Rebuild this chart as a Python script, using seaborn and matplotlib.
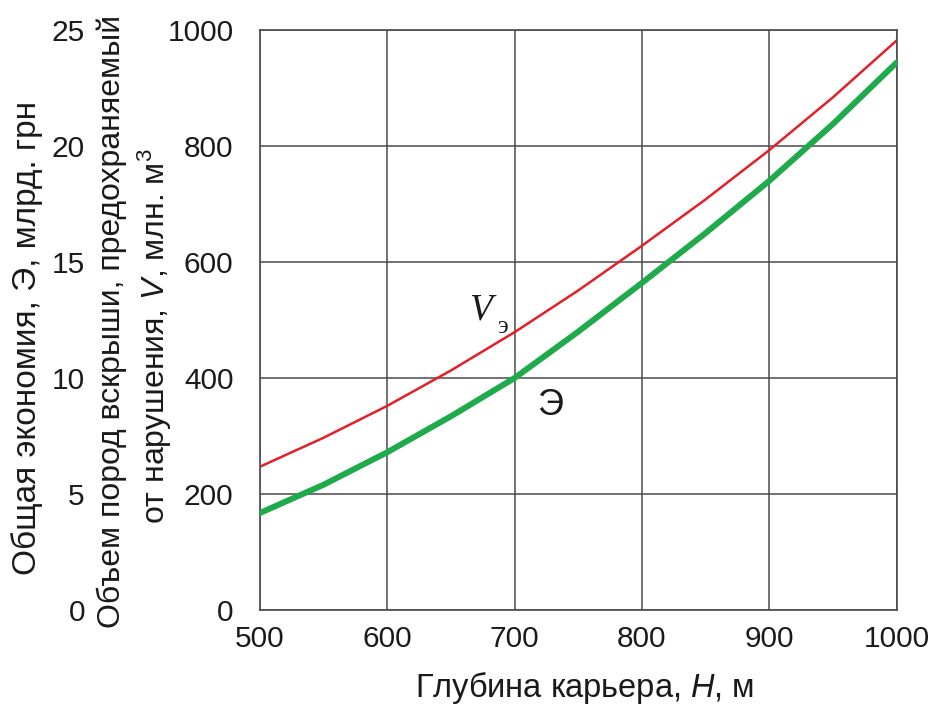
import matplotlib
matplotlib.use("Agg")
import matplotlib.pyplot as plt
import seaborn as sns
import pandas as pd

depth = [500, 550, 600, 650, 700, 750, 800, 850, 900, 950, 1000]
volume_v = [247, 297, 352, 413, 479, 551, 628, 708, 793, 884, 982]          # млн. м3
economy_e = [4.18, 5.40, 6.80, 8.35, 10.0, 12.0, 14.1, 16.25, 18.5, 20.95, 23.6]  # млрд. грн

x_ticks = [500, 600, 700, 800, 900, 1000]
v_ticks = [0, 200, 400, 600, 800, 1000]
e_ticks = [0, 5, 10, 15, 20, 25]

sns.set_theme(style="white")
plt.rcParams['font.family'] = ['Liberation Sans', 'DejaVu Sans']
plt.rcParams['mathtext.fontset'] = 'custom'
plt.rcParams['mathtext.it'] = 'Liberation Sans:italic'
plt.rcParams['mathtext.rm'] = 'Liberation Sans'

TXT = "#1a1a1a"
df = pd.DataFrame({"H": depth, "V": volume_v, "E": economy_e})

fig = plt.figure(figsize=(9.35, 7.06), dpi=100)
ax = fig.add_axes([0.278, 0.136, 0.681, 0.8215])

sns.lineplot(data=df, x="H", y="V", ax=ax, color="#e3202a", linewidth=1.8)
ax.set_xlim(500, 1000)
ax.set_ylim(0, 1000)
ax.set_xticks(x_ticks)
ax.set_yticks(v_ticks)
ax.grid(True, color="#4a4a4a", linewidth=1.1)
ax.set_axisbelow(True)
for s in ax.spines.values():
    s.set_color("#4a4a4a")
    s.set_linewidth(1.2)
ax.tick_params(axis='y', length=0, pad=19, labelsize=21.5, labelcolor=TXT)
ax.tick_params(axis='x', length=0, pad=11, labelsize=21.5, labelcolor=TXT)
ax.set_xlabel("")
ax.set_ylabel("")

ax2 = ax.twinx()
sns.lineplot(data=df, x="H", y="E", ax=ax2, color="#1faa4b", linewidth=4.3)
ax2.set_ylim(0, 25)
ax2.set_yticks(e_ticks)
ax2.yaxis.set_ticks_position('left')
ax2.spines['left'].set_position(('outward', 126))
for side in ['left', 'right', 'top', 'bottom']:
    ax2.spines[side].set_visible(False)
ax2.tick_params(axis='y', length=0, pad=0, labelsize=21.5, labelcolor=TXT)
ax2.set_ylabel("")
ax2.set_xlabel("")
ax2.grid(False)

# curve labels
ax.text(673, 517, "V", fontsize=27, style='italic', family=['Liberation Serif'],
        ha='center', va='center', color=TXT)
ax.text(686, 488, "э", fontsize=18, family=['Liberation Serif'],
        ha='left', va='center', color=TXT)
ax.text(728, 353, "Э", fontsize=26, ha='center', va='center', color=TXT)

# axis titles
fig.text(0.625, 0.026, "Глубина карьера, $\\it{H}$, м", ha='center', va='center',
         fontsize=23.5, color=TXT)
fig.text(0.029, 0.521, "Общая экономия, Э, млрд. грн", rotation=90,
         ha='center', va='center', fontsize=24, color=TXT)
fig.text(0.120, 0.545, "Объем пород вскрыши, предохраняемый", rotation=90,
         ha='center', va='center', fontsize=23, color=TXT)
fig.text(0.166, 0.524, "от нарушения, $\\it{V}$, млн. м$^3$", rotation=90,
         ha='center', va='center', fontsize=23, color=TXT)

fig.savefig("out.png", dpi=100)
